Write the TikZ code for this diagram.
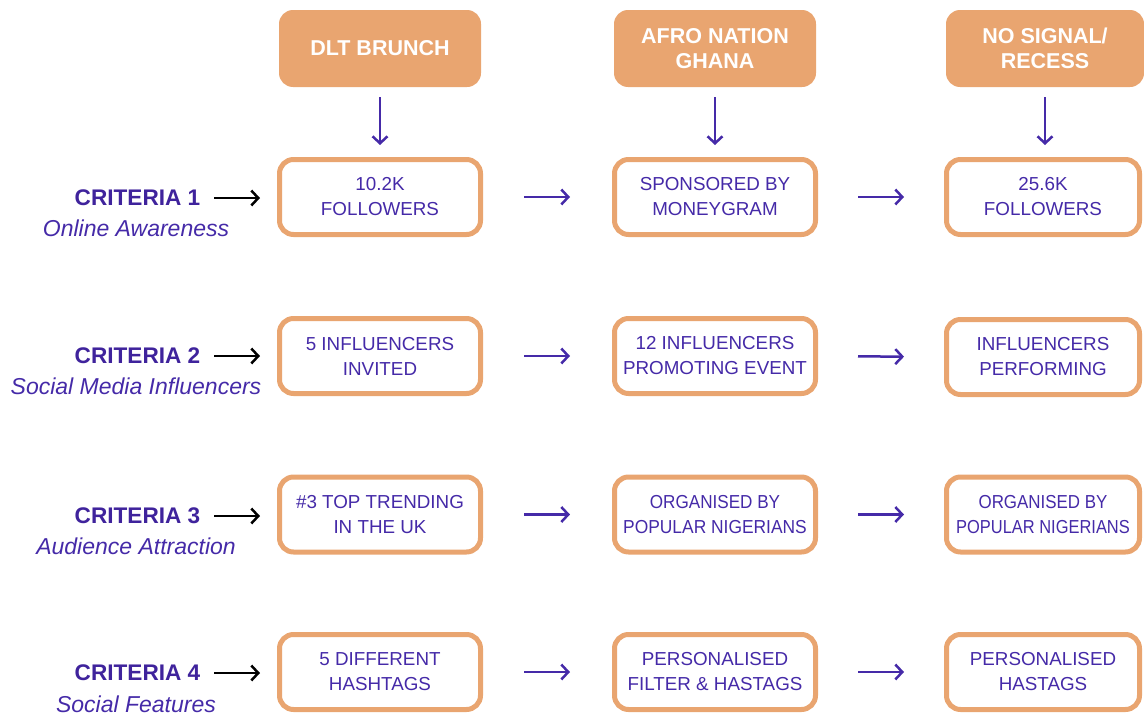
\documentclass[tikz,border=0pt]{standalone}
\usepackage{fontspec}
\usepackage{graphicx}
\setmainfont{Liberation Sans}
\usetikzlibrary{arrows.meta}
\definecolor{sand}{HTML}{E9A570}
\definecolor{violet}{HTML}{452AA8}
\definecolor{critc}{HTML}{3F239C}
\newcommand{\squeeze}[2]{\scalebox{#1}[1]{#2}}
\tikzset{
  head/.style={fill=sand, draw=none, rounded corners=14pt, minimum width=202pt, minimum height=77pt,
    text=white, font=\fontsize{21.5}{25}\selectfont\bfseries, align=center, inner sep=0pt, outer sep=0pt},
  cell/.style={draw=sand, line width=5pt, fill=white, rounded corners=14pt, minimum width=201pt, minimum height=75pt,
    text=violet, font=\fontsize{18.8}{25}\selectfont, align=center, inner sep=0pt, outer sep=0pt},
  cellr/.style={cell, minimum width=193pt},
  crit/.style={text=critc, font=\fontsize{22.6}{26}\selectfont\bfseries, inner sep=0pt, outer sep=0pt},
  sub/.style={text=violet, font=\fontsize{23}{26}\selectfont\itshape, inner sep=0pt},
  tip/.style={-{Straight Barb[length=7pt,width=15pt,line width=2.5pt]}},
  parrow/.style={draw=violet, line width=2.5pt, tip},
  barrow/.style={draw=black, line width=2.5pt, tip},
}
\begin{document}
\begin{tikzpicture}[x=1pt,y=-1pt]
\useasboundingbox (0,0) rectangle (1144,715);
% headers
\node[head] (h1) at (380,48.5) {DLT BRUNCH};
\node[head] (h2) at (715,48.5) {AFRO NATION\\GHANA};
\node[head, minimum width=198pt] (h3) at (1045,48.5) {NO SIGNAL/\\RECESS};
% cells
\node[cell] (r1c1) at (380,197) {10.2K\\FOLLOWERS};
\node[cell] (r1c2) at (715,197) {SPONSORED BY\\MONEYGRAM};
\node[cellr] (r1c3) at (1043,197) {25.6K\\FOLLOWERS};
\node[cell] (r2c1) at (380,356) {5 INFLUENCERS\\INVITED};
\node[cell] (r2c2) at (715,356) {12 INFLUENCERS\\PROMOTING EVENT};
\node[cellr] (r2c3) at (1043,357) {INFLUENCERS\\PERFORMING};
\node[cell] (r3c1) at (380,514.5) {\#3 TOP TRENDING\\IN THE UK};
\node[cell] (r3c2) at (715,514.5) {\squeeze{0.91}{ORGANISED BY}\\\squeeze{0.925}{POPULAR NIGERIANS}};
\node[cellr] (r3c3) at (1043,514.5) {\squeeze{0.9}{ORGANISED BY}\\\squeeze{0.875}{POPULAR NIGERIANS}};
\node[cell] (r4c1) at (380,672) {5 DIFFERENT\\HASHTAGS};
\node[cell] (r4c2) at (715,672) {PERSONALISED\\FILTER \& HASTAGS};
\node[cellr] (r4c3) at (1043,672) {PERSONALISED\\HASTAGS};
% down arrows
\foreach \i in {1,2,3} {
  \draw[parrow, shorten <=10pt, shorten >=14.5pt] (h\i.south) -- (h\i.south |- r1c\i.north);
}
% horizontal arrows
\foreach \r in {1,2,3,4} {
  \draw[parrow, shorten <=43.5pt, shorten >=44.5pt] (r\r c1.east) -- (r\r c2.west);
  \draw[parrow, shorten <=42.5pt, shorten >=42.5pt] (r\r c2.east) -- (r\r c3.west);
}
% criteria
\node[crit] (c1) at (137.5,198) {CRITERIA 1};
\node[sub] (s1) at (136,228) {Online Awareness};
\node[crit] (c2) at (137.5,356) {CRITERIA 2};
\node[sub] (s2) at (136,386) {Social Media Influencers};
\node[crit] (c3) at (137.5,516) {CRITERIA 3};
\node[sub] (s3) at (136,546) {Audience Attraction};
\node[crit] (c4) at (137.5,673) {CRITERIA 4};
\node[sub] (s4) at (136,704) {Social Features};
\foreach \r in {1,2,3,4} {
  \draw[barrow, shorten <=14pt, shorten >=19.5pt] (c\r.east) -- (c\r.east -| r\r c1.west);
}
\end{tikzpicture}
\end{document}
